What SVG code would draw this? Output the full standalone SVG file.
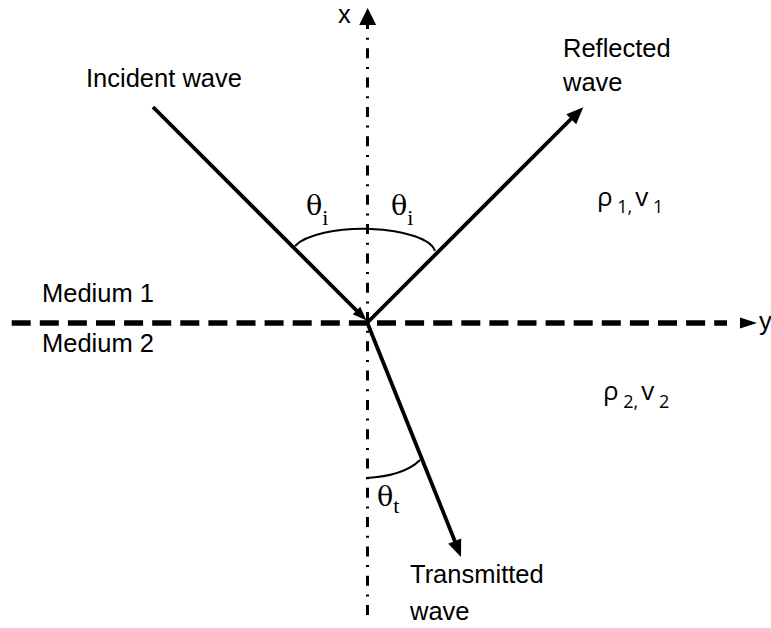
<svg xmlns="http://www.w3.org/2000/svg" width="771" height="628" viewBox="0 0 771 628">
<style>
.lbl{font-family:"Liberation Sans",Arial,sans-serif;font-size:25.5px;fill:#000}
.th{font-family:"DejaVu Serif","Liberation Serif",serif;font-size:27px;fill:#000}
.ths{font-family:"Liberation Serif","Times New Roman",serif;font-size:22px}
.rv{font-family:"Open Sans","Noto Sans",sans-serif;font-size:26px;fill:#000}
.sub{font-size:18px}
.ray{stroke:#000;stroke-width:3.8;fill:none}
.arc{stroke:#000;stroke-width:2;fill:none}
.head{fill:#000;stroke:none}
</style>
<rect width="771" height="628" fill="#fff"/>
<g id="axes">
  <line id="x-axis" x1="367.5" y1="19" x2="367.5" y2="620" stroke="#000" stroke-width="3" stroke-dasharray="10 8.7 2 8.6"/>
  <polygon class="head" points="367.7,8 359.2,25 376.2,25"/>
  <line id="y-axis" x1="11.7" y1="323" x2="727" y2="323" stroke="#000" stroke-width="5.5" stroke-dasharray="19 9.1"/>
  <polygon class="head" points="757,323 740,317.5 740,328.5"/>
  <text class="lbl" x="338" y="23">x</text>
  <text class="lbl" x="759" y="330">y</text>
</g>
<g id="connectors">
  <g id="incident">
    <line class="ray" x1="153" y1="107" x2="359" y2="313"/>
    <polygon class="head" points="366.5,320.5 360.3,306.8 352.8,314.3"/>
  </g>
  <g id="reflected">
    <line class="ray" x1="367" y1="323" x2="573" y2="117"/>
    <polygon class="head" points="583.3,107.3 566.3,114.3 576.2,124.2"/>
  </g>
  <g id="transmitted">
    <line class="ray" x1="367" y1="322" x2="456" y2="544"/>
    <polygon class="head" points="461,557 448.2,543.8 461.2,538.6"/>
  </g>
</g>
<g id="angles">
  <path class="arc" d="M295,246 A72,25 0 0 1 435,251"/>
  <path class="arc" d="M366,478 Q404,476 420,460"/>
  <text class="th" x="306" y="215">θ<tspan class="ths" dy="10">i</tspan></text>
  <text class="th" x="391" y="215">θ<tspan class="ths" dy="10">i</tspan></text>
  <text class="th" x="377" y="506">θ<tspan class="ths" dy="7">t</tspan></text>
</g>
<g id="labels">
  <text class="lbl" x="86" y="87">Incident wave</text>
  <text class="lbl" x="563" y="57">Reflected</text>
  <text class="lbl" x="563" y="91">wave</text>
  <text class="lbl" x="42" y="302">Medium 1</text>
  <text class="lbl" x="42" y="352">Medium 2</text>
  <text class="lbl" x="410" y="583">Transmitted</text>
  <text class="lbl" x="410" y="620">wave</text>
  <text class="rv" x="597" y="206">ρ<tspan class="sub" dy="7"> 1,</tspan><tspan dx="3" dy="-7">v</tspan><tspan class="sub" dy="7"> 1</tspan></text>
  <text class="rv" x="603" y="400">ρ<tspan class="sub" dy="8"> 2,</tspan><tspan dx="3" dy="-8">v</tspan><tspan class="sub" dy="8"> 2</tspan></text>
</g>
</svg>
